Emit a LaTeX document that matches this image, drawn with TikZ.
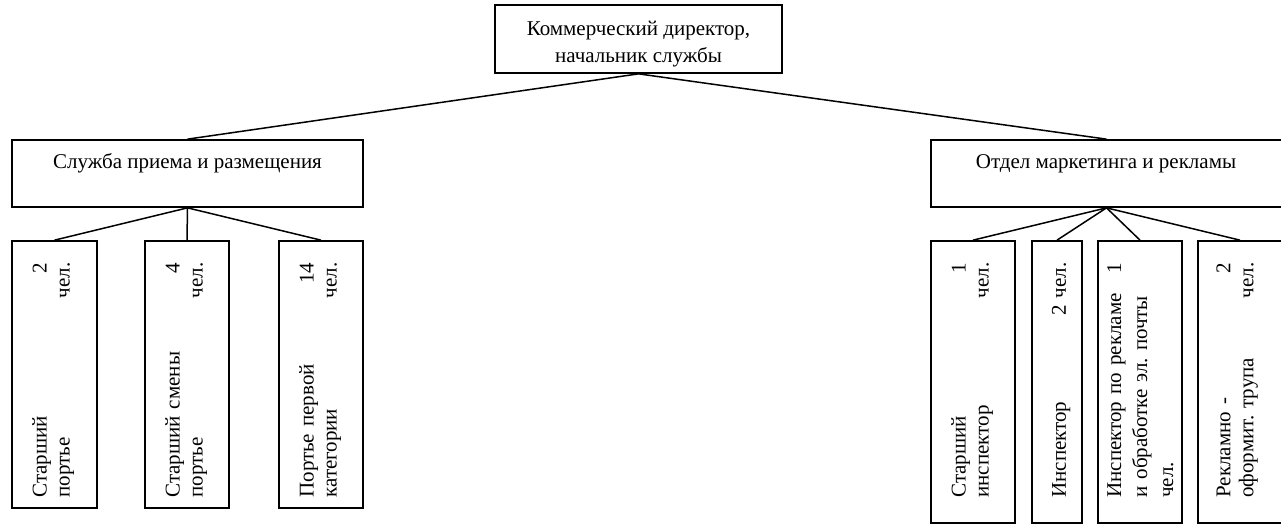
\documentclass[tikz,border=0pt]{standalone}
\usepackage{fontspec}
\setmainfont{Liberation Serif}
\usetikzlibrary{calc}
\frenchspacing
\begin{document}
\begin{tikzpicture}[x=1pt,y=-1pt,
  box/.style={draw,line width=1.7pt,inner sep=0pt},
  link/.style={line width=1.5pt},
  lbl/.style={font=\fontsize{21}{27}\selectfont,align=center,inner sep=0pt},
  vtext/.style={rotate=90,anchor=north west,inner sep=0pt,text width=235pt,
    align=left,font=\fontsize{21}{23}\selectfont}]
\useasboundingbox (0,0) rectangle (1281,525);

% head of the service
\node[box,minimum width=287pt,minimum height=68pt] (dir) at (638.5,39) {};
\node[lbl] (dirT) at ($(dir.center)+(0,5)$) {Коммерческий директор,\\начальник службы};

% departments
\node[box,minimum width=351pt,minimum height=67pt] (svc) at (187.5,173.5) {};
\node[lbl,anchor=base] (svcT) at (187.5,168) {Служба приема и размещения};
\node[box,minimum width=351pt,minimum height=67pt] (mkt) at (1106.5,173.5) {};
\node[lbl,anchor=base] (mktT) at (1106,168) {Отдел маркетинга и рекламы};

% staff of the front office
\node[box,minimum width=85pt,minimum height=267pt] (l1) at (54.5,374.5) {};
\node[box,minimum width=84pt,minimum height=267pt] (l2) at (187,374.5) {};
\node[box,minimum width=84pt,minimum height=267pt] (l3) at (321,374.5) {};
\node[vtext] (l1T) at ($(l1.south west)+(21,-11)$) {Старший\hfill 2\\портье\hfill чел.};
\node[vtext] (l2T) at ($(l2.south west)+(21,-11)$) {Старший смены\hfill 4\\портье\hfill чел.};
\node[vtext] (l3T) at ($(l3.south west)+(21,-11)$) {Портье первой\hfill 14\\категории\hfill чел.};

% staff of the marketing department
\node[box,minimum width=84pt,minimum height=282pt] (r1) at (973,382) {};
\node[box,minimum width=50pt,minimum height=282pt] (r2) at (1057,382) {};
\node[box,minimum width=84pt,minimum height=282pt] (r3) at (1140,382) {};
\node[box,minimum width=84pt,minimum height=282pt] (r4) at (1240,382) {};
\node[vtext] (r1T) at ($(r1.south west)+(21,-26)$) {Старший\hfill 1\\инспектор\hfill чел.};
\node[vtext] (r2T) at ($(r2.south west)+(20.5,-26)$) {Инспектор\hfill 2 чел.};
\node[vtext,font=\fontsize{21}{26}\selectfont] (r3T) at ($(r3.south west)+(10,-26)$) {Инспектор по рекламе\hfill 1\\и обработке эл. почты\\чел.};
\node[vtext] (r4T) at ($(r4.south west)+(19,-26)$) {Рекламно -\hfill 2\\оформит. трупа\hfill чел.};

% links
\draw[link] (dir.south) -- (svc.north);
\draw[link] (dir.south) -- (mkt.north);
\foreach \c in {l1,l2,l3} \draw[link] (svc.south) -- (\c.north);
\foreach \c in {r1,r2,r3,r4} \draw[link] (mkt.south) -- (\c.north);
\end{tikzpicture}
\end{document}
